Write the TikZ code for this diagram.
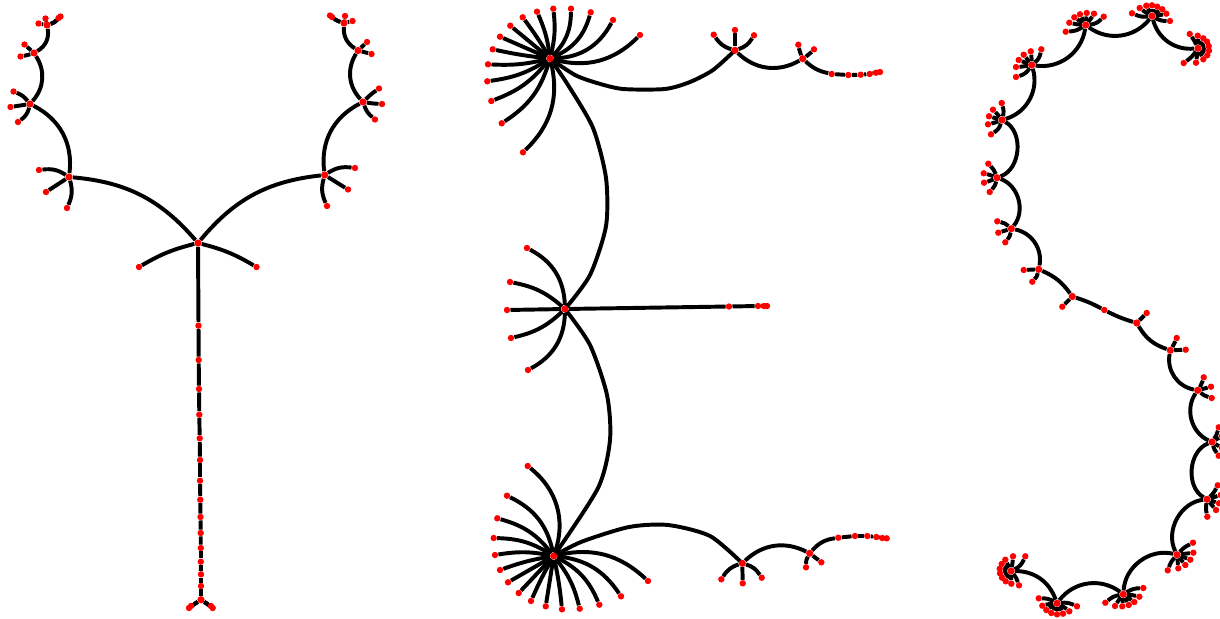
\documentclass[tikz,border=0pt]{standalone}
\usetikzlibrary{backgrounds}

\newcommand{\fan}[2]{\foreach \lx/\ly/\lb [count=\li] in {#2} {
	\node[leaf] (#1-\li) at (\lx,\ly) {};
	\begin{scope}[on background layer]
		\draw[edge] (#1) to[bend left=\lb] (#1-\li);
	\end{scope}
}}
\newcommand{\trail}[3]{\xdef\lastnode{#2}\foreach \lx/\ly [count=\li] in {#3} {
	\node[leaf] (#1-\li) at (\lx,\ly) {};
	\begin{scope}[on background layer]
		\draw[edge] (\lastnode) -- (#1-\li);
	\end{scope}
	\xdef\lastnode{#1-\li}
}}

\begin{document}
\begin{tikzpicture}[x=0.025cm, y=-0.025cm,
	edge/.style={line width=2.8pt, black, line join=round},
	bowed/.style={smooth, tension=0.45},
	hub/.style={circle, fill=red, inner sep=0pt, minimum size=0.18cm},
	leaf/.style={circle, fill=red, inner sep=0pt, minimum size=0.16cm}]
	\useasboundingbox (0,0) rectangle (1220,618);
	% letter Y
	\node[hub] (yroot) at (198,243) {};
	\node[hub] (ytail) at (201,599.7) {};
	\node[hub] (a1) at (69,177) {};
	\node[hub] (a2) at (30,104) {};
	\node[hub] (a3) at (34,53) {};
	\node[hub] (a4) at (47,25) {};
	\node[hub] (b1) at (324.7,175) {};
	\node[hub] (b2) at (363,102) {};
	\node[hub] (b3) at (358,50.5) {};
	\node[hub] (b4) at (344,23) {};
	\fan{yroot}{139/267/-8, 256.5/267/8}
	\fan{a1}{39/170/-20, 46/192/0, 67/208/20}
	\fan{a2}{13.5/91.5/-15, 10.5/107/0, 18/122/20}
	\fan{a3}{24.5/44.5/0, 20.5/56.5/5}
	\fan{a4}{38.5/23.5/0, 45.5/18.5/0, 58.5/18/-15, 60.5/16.5/-15}
	\fan{b1}{355/168/20, 348/189.5/0, 327/206/-20}
	\fan{b2}{379/88.5/5, 382/104/-3, 375/119.5/-15}
	\fan{b3}{367/42/0, 371.5/54/0}
	\fan{b4}{330/15.5/12, 332/17/12, 345/16/0, 352.5/21/0}
	\fan{ytail}{189/608/0, 191/606/0, 212.7/608/0, 211/606/0}
	\trail{ystem}{yroot}{198.5/325.7, 198.7/360, 199/389, 199.3/414.7, 199.7/438.3, 200/460, 200/480.7, 200.3/499.7, 200.5/517, 200.7/533, 200.8/548, 200.8/561.7, 201/574.3, 201/586}
	\begin{scope}[on background layer]
		\draw[edge] (ystem-14) -- (ytail);
		\draw[edge] (yroot) to[bend left=-22] (a1);
		\draw[edge] (a1) to[bend left=-35] (a2);
		\draw[edge] (a2) to[bend left=-37] (a3);
		\draw[edge] (a3) to[bend left=-35] (a4);
		\draw[edge] (yroot) to[bend left=22] (b1);
		\draw[edge] (b1) to[bend left=35] (b2);
		\draw[edge] (b2) to[bend left=37] (b3);
		\draw[edge] (b3) to[bend left=30] (b4);
	\end{scope}
	% letter E
	\node[hub] (e1) at (550,58.5) {};
	\node[hub] (e2) at (735,50.3) {};
	\node[hub] (e3) at (802.7,58.7) {};
	\node[hub] (e5) at (565,309) {};
	\node[hub] (e9) at (553.7,556) {};
	\node[hub] (e10) at (742.3,563.3) {};
	\node[hub] (e11) at (809.7,553.3) {};
	\fan{e1}{640/35/-30, 613/20/-30, 590.7/12.3/-25, 571/8.7/-22, 553.3/8.7/-10, 537/11.7/-8, 522.7/17.3/-3, 510.3/25.7/0, 500/36.7/0, 492.7/49.3/3, 488/64.3/8, 487.3/81.3/12, 491.3/101/15, 501.7/123.3/20, 523/152.3/30}
	\fan{e2}{713.7/34.7/20, 735/30/0, 754/35.3/-20}
	\fan{e3}{798.3/44.7/8, 814/49.3/-8, 831.7/74/-15}
	\trail{etop}{e3-3}{848.3/75, 860.7/74.7, 869.7/74, 876/72.7, 880/72}
	\fan{e5}{527/248/-30, 510/282/-15, 507/310/0, 511/338/15, 528/370/30}
	\trail{emid}{e5}{729/306.5, 758/306, 764/306, 767/306}
	\fan{e9}{648/581/28, 621/596.3/25, 599.3/604.7/20, 579.7/608.7/12, 562/609.3/3, 545.7/606.3/0, 531/601/-3, 518.7/593/0, 508/582.3/0, 500/570/-5, 495/555/-10, 493.7/538/-15, 497.3/518.3/-18, 507/495.7/-26, 527.7/466/-35}
	\fan{e10}{721.3/579.3/-20, 742.7/583.3/0, 761.7/577.7/20}
	\fan{e11}{806/567.3/-15, 821.3/562.3/0, 838.3/537.7/20}
	\trail{ebot}{e11-3}{855/536, 867.3/536, 876.3/537, 882.3/538, 886.7/538.3}
	\begin{scope}[on background layer]
		\draw[edge] plot[bowed] coordinates {(e1) (575,75) (597,83) (623,89) (665,89) (690,82) (713,70) (e2)};
		\draw[edge] (e2) to[bend left=-37] (e3);
		\draw[edge] plot[bowed] coordinates {(e1) (568,85) (593,128) (606,178) (606,226) (590,275) (e5)};
		\draw[edge] plot[bowed] coordinates {(e5) (590,345) (607,395) (610,440) (598,488) (e9)};
		\draw[edge] plot[bowed] coordinates {(e9) (581.7,541.7) (629,527) (668,525) (710,536) (e10)};
		\draw[edge] (e10) to[bend left=35] (e11);
	\end{scope}
	% letter S
	\node[hub] (s1) at (1198,48.3) {};
	\node[hub] (s2) at (1152,16) {};
	\node[hub] (s3) at (1085.7,25) {};
	\node[hub] (s4) at (1031.7,65) {};
	\node[hub] (s5) at (1002,120) {};
	\node[hub] (s6) at (997,177.7) {};
	\node[hub] (s7) at (1011.3,228.7) {};
	\node[hub] (s8) at (1038.7,269.3) {};
	\node[hub] (s9) at (1072.3,296.5) {};
	\node[hub] (s10) at (1136.7,323) {};
	\node[hub] (s11) at (1170.3,350.3) {};
	\node[hub] (s12) at (1197.7,390.3) {};
	\node[hub] (s13) at (1212,442) {};
	\node[hub] (s14) at (1207,499.3) {};
	\node[hub] (s15) at (1177,554.7) {};
	\node[hub] (s16) at (1123.3,594.3) {};
	\node[hub] (s17) at (1057,603.3) {};
	\node[hub] (s18) at (1011,571) {};
	\fan{s1}{1189.7/34/-5, 1197.7/35.7/0, 1203.3/38.3/0, 1207/41.7/0, 1208.7/46/0, 1209/50.7/0, 1207.3/55.3/0, 1203.3/59.3/0, 1196/62.7/0, 1183.7/63/10}
	\fan{s2}{1170/21/-15, 1166.3/13.7/-5, 1162.3/9.3/0, 1157.3/6.7/0, 1152/5.3/0, 1146.3/5.7/0, 1139.7/8/5, 1132/13.3/15}
	\fan{s3}{1103.7/16.7/-20, 1094/13.7/-5, 1086.7/13/0, 1080/14.3/0, 1074.3/17.3/0, 1069.3/22.7/5, 1065.7/31.7/15}
	\fan{s4}{1041.3/49.3/-20, 1030.7/51.3/-5, 1023.7/54.7/0, 1018.7/60/0, 1016/67/5, 1016/77/20}
	\fan{s5}{1001.7/103/-15, 993/109.7/-5, 989/116.3/0, 988/124.3/5, 991/134.3/20}
	\fan{s6}{988.3/163.7/-12, 983.7/173.3/-5, 984/182.7/5, 989.7/192/15}
	\fan{s7}{997.3/221.3/-15, 998.3/232.7/0, 1005.3/242.3/15}
	\fan{s8}{1023.7/270/0, 1032.3/281.7/15}
	\fan{s9}{1062.3/306.7/0, 1104.3/310/5}
	\fan{s10}{1146.7/313/0}
	\fan{s11}{1176.7/338/-5, 1185.7/349.7/0}
	\fan{s12}{1203.7/377.3/-10, 1211/386.7/0, 1211.7/398/-12}
	\fan{s13}{1218.7/427.3/-10, 1222/436/0, 1222/448/0, 1218.7/455.7/-10}
	\fan{s14}{1217.7/485.3/-10, 1220.7/495/0, 1219/503.3/0, 1216/510/0, 1207.3/516.7/-10}
	\fan{s15}{1193/542.7/10, 1193.3/552.7/0, 1190.3/559.7/0, 1185.3/565/0, 1178.3/568.3/0, 1167.7/570.3/-10}
	\fan{s16}{1143.3/588/15, 1139.3/596.7/5, 1134.3/602/0, 1128.7/605/0, 1122.3/606.3/0, 1115/606/-5, 1105.3/602.7/-15}
	\fan{s17}{1077/606.3/15, 1069.3/611.3/8, 1063/613.7/3, 1057/614.3/0, 1051.3/613/-3, 1046.3/610/-5, 1042.3/605.7/-8, 1038.7/598.3/-15}
	\fan{s18}{1025.3/556.3/-20, 1013/556.3/-5, 1005.3/559.7/0, 1001.7/564/0, 999.7/568.7/0, 1000/573.3/0, 1002/577.7/0, 1005.7/581.3/0, 1011.3/583.7/0, 1019/585.3/10}
	\begin{scope}[on background layer]
		\draw[edge] (s2) to[bend left=-40] (s1);
		\draw[edge] (s3) to[bend left=-44] (s2);
		\draw[edge] (s4) to[bend left=-45] (s3);
		\draw[edge] (s5) to[bend left=-45] (s4);
		\draw[edge] (s6) to[bend left=-65] (s5);
		\draw[edge] (s7) to[bend left=-55] (s6);
		\draw[edge] (s8) to[bend left=-45] (s7);
		\draw[edge] (s9) to[bend left=-15] (s8);
		\draw[edge] (s9-2) to[bend left=-5] (s10);
		\draw[edge] (s10) to[bend left=-20] (s11);
		\draw[edge] (s11) to[bend left=-45] (s12);
		\draw[edge] (s12) to[bend left=-50] (s13);
		\draw[edge] (s13) to[bend left=-65] (s14);
		\draw[edge] (s14) to[bend left=-55] (s15);
		\draw[edge] (s15) to[bend left=-50] (s16);
		\draw[edge] (s16) to[bend left=-45] (s17);
		\draw[edge] (s17) to[bend left=-35] (s18);
	\end{scope}
\end{tikzpicture}
\end{document}
